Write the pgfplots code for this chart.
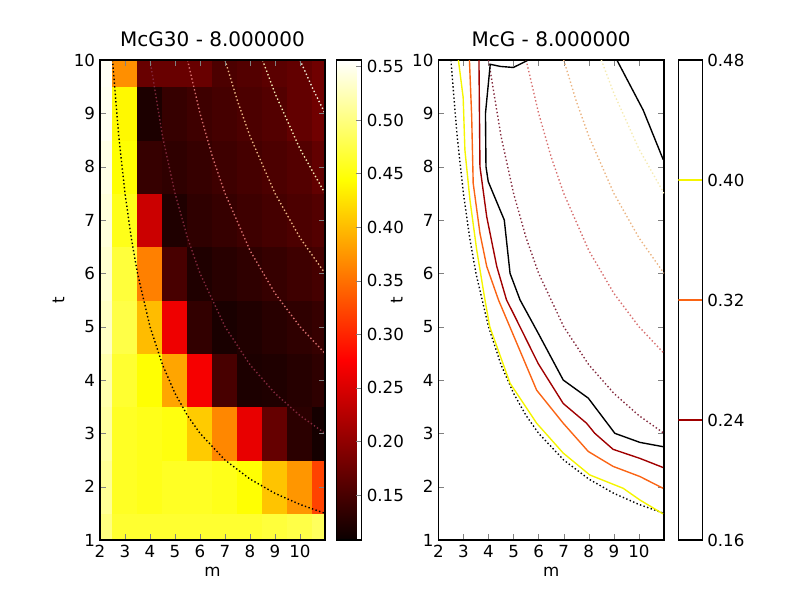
\documentclass[border=0pt]{standalone}
\usepackage{fontspec}
\setmainfont{DejaVu Sans}
\usepackage{pgfplots}
\pgfplotsset{compat=1.18}
\definecolor{c24}{RGB}{160,0,0}
\definecolor{c32}{RGB}{250,100,20}
\definecolor{c40}{RGB}{245,245,0}
\definecolor{d2}{RGB}{130,40,60}
\definecolor{d3}{RGB}{215,110,110}
\definecolor{d4}{RGB}{235,180,130}
\definecolor{d5}{RGB}{245,235,180}
\definecolor{d6}{RGB}{240,235,215}
\pgfplotsset{
  colormap={mplhot}{rgb(0cm)=(0.0416,0,0); rgb(3cm)=(1,0,0); rgb(6cm)=(1,1,0); rgb(8cm)=(1,1,1)},
  every axis/.append style={
    /pgf/number format/assume math mode=true,
    tick label style={font=\fontsize{12}{14}\selectfont},
    label style={font=\fontsize{12}{14}\selectfont},
    title style={font=\fontsize{14.4}{17}\selectfont},
    axis line style={line width=0.8pt},
    major tick length=4pt,
    tick align=inside,
  },
  dots/.style={line width=1pt, dash pattern=on 1pt off 1.7pt},
}
\begin{document}
\begin{tikzpicture}
\useasboundingbox (0,0) rectangle (576pt,432pt);
% ---------------- left panel ----------------
\begin{axis}[
  at={(72pt,43.2pt)}, anchor=south west, scale only axis,
  width=162pt, height=345.6pt,
  xmin=2, xmax=11, ymin=1, ymax=10,
  xtick={2,...,10}, ytick={1,...,10},
  xlabel={m}, ylabel={t},
  title={McG30 - 8.000000},
  colormap name=mplhot,
  point meta min=0.108, point meta max=0.556,
  axis on top,
  colorbar,
  colorbar style={
    at={([xshift=10.8pt]parent axis.north east)}, anchor=north west,
    width=18pt,
    ytick={0.15,0.2,0.25,0.3,0.35,0.4,0.45,0.5,0.55},
    yticklabel style={/pgf/number format/.cd,fixed,fixed zerofill,precision=2,assume math mode=true},
    tick label style={font=\fontsize{12}{14}\selectfont},
    yticklabel pos=right, ytick pos=right,
    tick align=inside, major tick length=4pt,
    axis line style={line width=0.8pt},
  },
]
% cell corners: each corner (x,y) carries the value of the cell to its upper right
\addplot[surf, shader=flat corner, mesh/cols=11, point meta=explicit] table[meta=v] {
x y v
1.5 0.5 0.50
2.5 0.5 0.465
3.5 0.5 0.465
4.5 0.5 0.465
5.5 0.5 0.465
6.5 0.5 0.465
7.5 0.5 0.465
8.5 0.5 0.47
9.5 0.5 0.475
10.5 0.5 0.485
11.5 0.5 0.485
1.5 1.5 0.51
2.5 1.5 0.46
3.5 1.5 0.455
4.5 1.5 0.46
5.5 1.5 0.46
6.5 1.5 0.455
7.5 1.5 0.445
8.5 1.5 0.405
9.5 1.5 0.375
10.5 1.5 0.32
11.5 1.5 0.32
1.5 2.5 0.515
2.5 2.5 0.46
3.5 2.5 0.455
4.5 2.5 0.45
5.5 2.5 0.41
6.5 2.5 0.365
7.5 2.5 0.26
8.5 2.5 0.17
9.5 2.5 0.13
10.5 2.5 0.115
11.5 2.5 0.115
1.5 3.5 0.52
2.5 3.5 0.465
3.5 3.5 0.445
4.5 3.5 0.385
5.5 3.5 0.27
6.5 3.5 0.15
7.5 3.5 0.12
8.5 3.5 0.122
9.5 3.5 0.127
10.5 3.5 0.132
11.5 3.5 0.132
1.5 4.5 0.53
2.5 4.5 0.475
3.5 4.5 0.40
4.5 4.5 0.265
5.5 4.5 0.135
6.5 4.5 0.118
7.5 4.5 0.123
8.5 4.5 0.128
9.5 4.5 0.133
10.5 4.5 0.138
11.5 4.5 0.138
1.5 5.5 0.535
2.5 5.5 0.47
3.5 5.5 0.36
4.5 5.5 0.15
5.5 5.5 0.122
6.5 5.5 0.128
7.5 5.5 0.133
8.5 5.5 0.138
9.5 5.5 0.143
10.5 5.5 0.148
11.5 5.5 0.148
1.5 6.5 0.54
2.5 6.5 0.455
3.5 6.5 0.24
4.5 6.5 0.122
5.5 6.5 0.133
6.5 6.5 0.138
7.5 6.5 0.143
8.5 6.5 0.148
9.5 6.5 0.153
10.5 6.5 0.158
11.5 6.5 0.158
1.5 7.5 0.545
2.5 7.5 0.445
3.5 7.5 0.138
4.5 7.5 0.133
5.5 7.5 0.138
6.5 7.5 0.143
7.5 7.5 0.148
8.5 7.5 0.153
9.5 7.5 0.158
10.5 7.5 0.168
11.5 7.5 0.168
1.5 8.5 0.55
2.5 8.5 0.44
3.5 8.5 0.12
4.5 8.5 0.138
5.5 8.5 0.143
6.5 8.5 0.148
7.5 8.5 0.153
8.5 8.5 0.158
9.5 8.5 0.168
10.5 8.5 0.178
11.5 8.5 0.178
1.5 9.5 0.552
2.5 9.5 0.37
3.5 9.5 0.172
4.5 9.5 0.172
5.5 9.5 0.172
6.5 9.5 0.153
7.5 9.5 0.158
8.5 9.5 0.163
9.5 9.5 0.168
10.5 9.5 0.178
11.5 9.5 0.178
1.5 10.5 0.552
2.5 10.5 0.37
3.5 10.5 0.172
4.5 10.5 0.172
5.5 10.5 0.172
6.5 10.5 0.153
7.5 10.5 0.158
8.5 10.5 0.163
9.5 10.5 0.168
10.5 10.5 0.178
11.5 10.5 0.178
};
\addplot[dots, black] coordinates {(2.5,10) (2.75,8.571) (3,7.5) (3.25,6.667) (3.5,6.0) (4,5.0) (4.5,4.286) (5,3.75) (5.5,3.333) (6,3.0) (7,2.5) (8,2.143) (9,1.875) (10,1.667) (11,1.5)};
\addplot[dots, d2] coordinates {(4,10) (4.5,8.571) (5,7.5) (5.5,6.667) (6,6.0) (7,5.0) (8,4.286) (9,3.75) (10,3.333) (11,3.0)};
\addplot[dots, d3] coordinates {(5.5,10) (6,9.0) (6.5,8.182) (7,7.5) (8,6.429) (9,5.625) (10,5.0) (11,4.5)};
\addplot[dots, d4] coordinates {(7,10) (7.5,9.231) (8,8.571) (9,7.5) (10,6.667) (11,6.0)};
\addplot[dots, d5] coordinates {(8.5,10) (9,9.375) (10,8.333) (11,7.5)};
\addplot[dots, d6] coordinates {(10,10) (10.5,9.474) (11,9.0)};
\end{axis}
% ---------------- right panel ----------------
\begin{axis}[
  at={(315.6pt,43.2pt)}, anchor=south west, scale only axis,
  width=162.5pt, height=345.6pt,
  xmin=2, xmax=11, ymin=1, ymax=10,
  xtick={2,...,10}, ytick={1,...,10},
  xlabel={m}, ylabel={t},
  title={McG - 8.000000},
]
\addplot[dots, black] coordinates {(2.5,10) (2.75,8.571) (3,7.5) (3.25,6.667) (3.5,6.0) (4,5.0) (4.5,4.286) (5,3.75) (5.5,3.333) (6,3.0) (7,2.5) (8,2.143) (9,1.875) (10,1.667) (11,1.5)};
\addplot[dots, d2] coordinates {(4,10) (4.5,8.571) (5,7.5) (5.5,6.667) (6,6.0) (7,5.0) (8,4.286) (9,3.75) (10,3.333) (11,3.0)};
\addplot[dots, d3] coordinates {(5.5,10) (6,9.0) (6.5,8.182) (7,7.5) (8,6.429) (9,5.625) (10,5.0) (11,4.5)};
\addplot[dots, d4] coordinates {(7,10) (7.5,9.231) (8,8.571) (9,7.5) (10,6.667) (11,6.0)};
\addplot[dots, d5] coordinates {(8.5,10) (9,9.375) (10,8.333) (11,7.5)};
% contours
\addplot[line width=1pt, c40] coordinates {(2.80,10) (2.99,9.3) (3.06,8.31) (3.26,7.38) (3.53,6.44) (3.86,5.5) (4.05,5.0) (4.86,3.94) (5.92,3.19) (6.98,2.63) (8.04,2.22) (9.37,1.97) (10.04,1.75) (10.96,1.49)};
\addplot[line width=1pt, c32] coordinates {(3.24,10) (3.33,8.94) (3.39,7.69) (3.66,6.75) (3.93,6.13) (4.4,5.5) (4.85,5.0) (5.92,3.81) (6.98,3.19) (7.98,2.66) (8.97,2.38) (10.04,2.19) (10.96,1.97)};
\addplot[line width=1pt, c24] coordinates {(3.62,10) (3.64,9.0) (3.66,8.0) (3.93,7.06) (4.33,6.13) (4.72,5.5) (4.99,5.25) (5.98,4.31) (6.98,3.56) (7.91,3.19) (8.24,3.0) (8.97,2.70) (10.04,2.53) (10.96,2.36)};
\addplot[line width=1pt, black] coordinates {(5.59,10) (4.99,9.86) (4.47,9.88) (4.07,9.92) (3.88,9.0) (3.90,8.0) (3.99,7.72) (4.63,7.0) (4.86,6.0) (5.26,5.5) (5.98,4.88) (6.98,4.0) (7.98,3.66) (9.04,3.0) (10.04,2.83) (10.96,2.75)};
\addplot[line width=1pt, black] coordinates {(9.12,10) (10.17,9.06) (10.97,8.13)};
\end{axis}
% ---------------- right colorbar ----------------
\begin{axis}[
  at={(488.4pt,43.2pt)}, anchor=south west, scale only axis,
  width=17.3pt, height=345.6pt,
  xmin=0, xmax=1, ymin=0.16, ymax=0.48,
  xtick=\empty,
  ytick={0.16,0.24,0.32,0.40,0.48},
  yticklabel style={/pgf/number format/.cd,fixed,fixed zerofill,precision=2,assume math mode=true},
  yticklabel pos=right, ytick pos=right,
]
\addplot[line width=1pt, c24] coordinates {(0,0.24) (1,0.24)};
\addplot[line width=1pt, c32] coordinates {(0,0.32) (1,0.32)};
\addplot[line width=1pt, c40] coordinates {(0,0.40) (1,0.40)};
\end{axis}
\end{tikzpicture}
\end{document}
